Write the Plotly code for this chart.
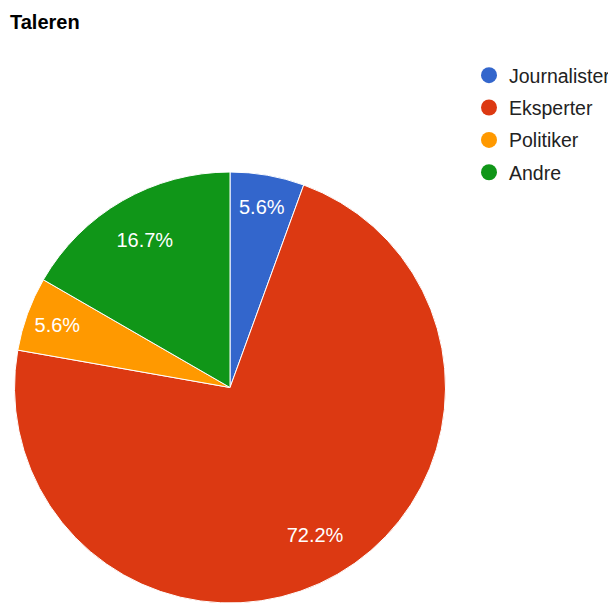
import plotly.graph_objects as go

# Responses to "Taleren" (counts out of 18)
labels = ["Journalister", "Eksperter", "Politiker", "Andre"]
counts = [1, 13, 1, 3]
colors = ["#3366cc", "#dc3912", "#ff9900", "#109618"]

# the page body has an 8px margin, so the figure is drawn 8px smaller
W, H = 608, 595
FONT = "Liberation Sans, Arial, sans-serif"
pie_dom = dict(x=[5 / W, 439 / W], y=[0, (H - 164) / H])

fig = go.Figure()

fig.add_trace(go.Pie(
    labels=labels,
    values=counts,
    sort=False,
    direction="clockwise",
    rotation=0,
    marker=dict(colors=colors, line=dict(color="white", width=1)),
    textinfo="none",
    showlegend=False,
    hoverinfo="label+percent",
    domain=pie_dom,
))

# transparent ring on top, only used to place the percentage labels
# out near 0.8 of the radius like the original chart does
fig.add_trace(go.Pie(
    labels=labels,
    values=counts,
    sort=False,
    direction="clockwise",
    rotation=0,
    hole=0.58,
    marker=dict(colors=["rgba(0,0,0,0)"] * 4, line=dict(width=0)),
    texttemplate="%{percent:.1%}",
    textposition="inside",
    insidetextorientation="horizontal",
    textfont=dict(family=FONT, size=20, color="white"),
    showlegend=False,
    hoverinfo="skip",
    domain=pie_dom,
))

# legend entries with round markers, like the original
for lab, col in zip(labels, colors):
    fig.add_trace(go.Scatter(
        x=[None], y=[None], mode="markers", name=lab, legendgroup=lab,
        marker=dict(symbol="circle", size=16, color=col),
    ))

fig.update_layout(
    width=W, height=H,
    margin=dict(l=0, r=0, t=0, b=0, autoexpand=False),
    paper_bgcolor="white",
    plot_bgcolor="white",
    font=dict(family=FONT, color="#222222"),
    title=dict(text="<b>Taleren</b>", x=2 / W, xanchor="left",
               y=1 - 14 / H, yanchor="middle",
               font=dict(size=20, color="#000000")),
    xaxis=dict(visible=False),
    yaxis=dict(visible=False),
    legend=dict(x=461 / W, xanchor="left", y=1 - 48 / H, yanchor="top",
                font=dict(size=19.5, color="#222222"),
                tracegroupgap=4,
                bgcolor="rgba(0,0,0,0)"),
)

fig.write_html("out.html")
